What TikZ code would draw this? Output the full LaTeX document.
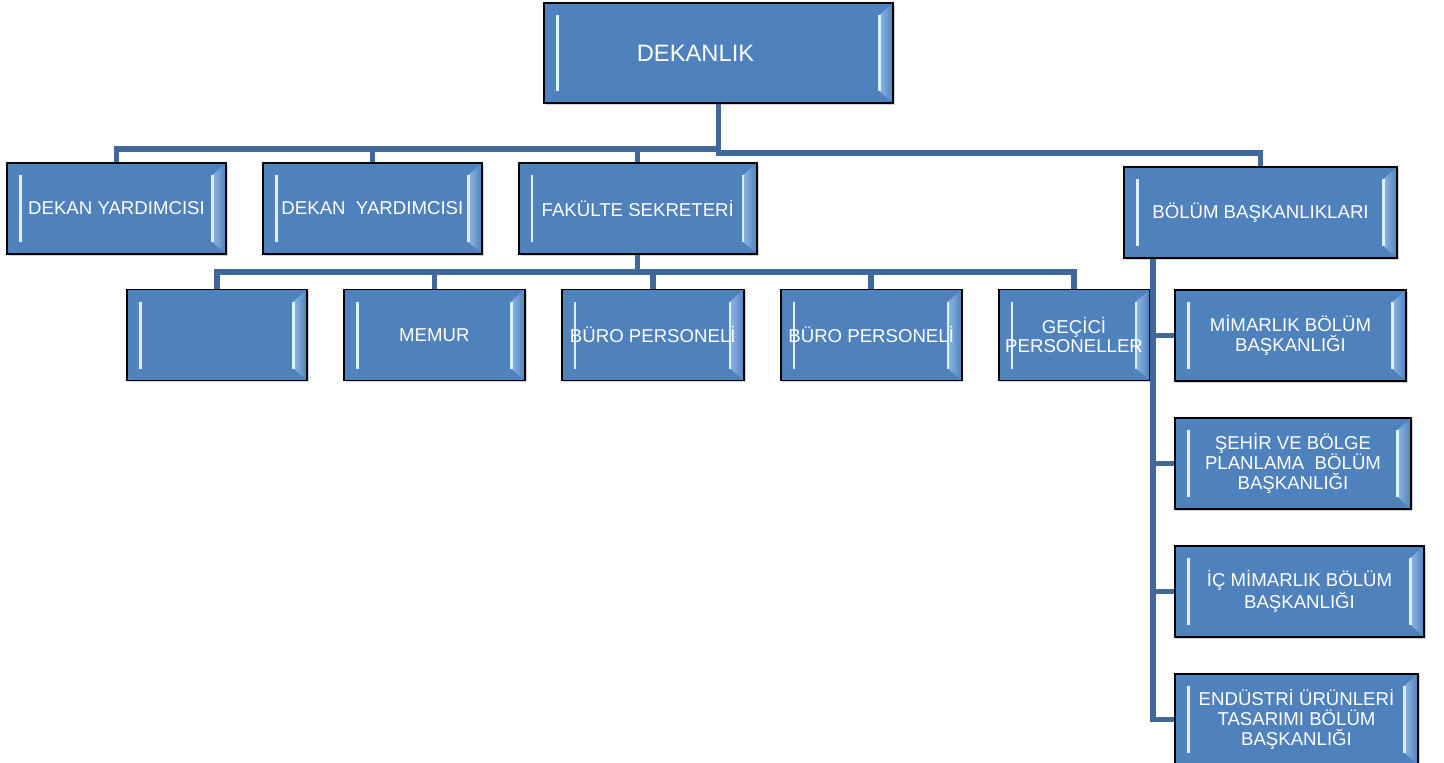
\documentclass[tikz,border=0pt]{standalone}
\usepackage{fontspec}
\newfontfamily\chartfont{Liberation Sans}
\usetikzlibrary{
		calc,
		positioning,
		shadows
	}
\definecolor{boxblue}{HTML}{4F81BD}
\definecolor{boxedge}{HTML}{8DB5E3}
\definecolor{boxshine}{HTML}{DCF1FF}
\definecolor{linkblue}{HTML}{41689B}
\tikzset{
		orgbox/.style={draw=black, line width=1.1pt, fill=boxblue, text=white, align=center,
			minimum height=1.82cm, inner sep=2pt,
			font=\chartfont\fontsize{10.6}{11.2}\selectfont,
			drop shadow={opacity=0.35, shadow xshift=1pt, shadow yshift=-1pt},
			path picture={
				% bevel on the left and right sides
				\shade[left color=boxblue, right color=boxedge]
					(path picture bounding box.north west) -- ([shift={(0.27cm,-0.24cm)}]path picture bounding box.north west)
					-- ([shift={(0.27cm,0.24cm)}]path picture bounding box.south west) -- (path picture bounding box.south west) -- cycle;
				\shade[left color=boxedge, right color=boxblue]
					(path picture bounding box.north east) -- ([shift={(-0.27cm,-0.24cm)}]path picture bounding box.north east)
					-- ([shift={(-0.27cm,0.24cm)}]path picture bounding box.south east) -- (path picture bounding box.south east) -- cycle;
				\draw[boxshine, line width=1.3pt]
					([shift={(0.27cm,-0.24cm)}]path picture bounding box.north west) -- ([shift={(0.27cm,0.24cm)}]path picture bounding box.south west)
					([shift={(-0.27cm,-0.24cm)}]path picture bounding box.north east) -- ([shift={(-0.27cm,0.24cm)}]path picture bounding box.south east);
			}},
		link/.style={draw=linkblue, line width=3.1pt}
	}

\begin{document}
\begin{tikzpicture}[x=0.02cm, y=-0.02cm]
	\useasboundingbox (0,0) rectangle (1444,762);
	\node[orgbox, minimum width=6.98cm, minimum height=2cm,
		label={[text=white, font=\chartfont\fontsize{13.5}{16}\selectfont, xshift=-0.46cm]center:DEKANLIK}] (dek) at (718.5,53) {};
	\node[orgbox, minimum width=4.38cm] (dy1) at (116.5,208.5) {DEKAN YARDIMCISI};
	\node[orgbox, minimum width=4.38cm, right=0.7cm of dy1] (dy2) {DEKAN~~YARDIMCISI};
	\node[orgbox, minimum width=4.76cm, right=0.7cm of dy2] (fs) {FAKÜLTE SEKRETERİ};
	\node[orgbox, minimum width=5.46cm] (bb) at (1260.5,212.5) {BÖLÜM BAŞKANLIKLARI};
	\node[orgbox, minimum width=3.6cm] (b1) at (217,335) {};
	\node[orgbox, minimum width=3.62cm, right=0.7cm of b1] (memur) {MEMUR};
	\node[orgbox, minimum width=3.64cm, right=0.7cm of memur] (bp1) {BÜRO PERSONELİ};
	\node[orgbox, minimum width=3.62cm, right=0.7cm of bp1] (bp2) {BÜRO PERSONELİ};
	\node[orgbox, minimum width=3.02cm, right=0.7cm of bp2] (gp) {GEÇİCİ\\PERSONELLER};
	\node[orgbox, minimum width=4.62cm] (mbb) at (1290.5,335.5) {MİMARLIK BÖLÜM\\BAŞKANLIĞI};
	\node[orgbox, minimum width=4.72cm, below right=0.7cm and 0cm of mbb.south west] (sbp) {ŞEHİR VE BÖLGE\\PLANLAMA~~BÖLÜM\\BAŞKANLIĞI};
	\node[orgbox, minimum width=4.98cm, below right=0.7cm and 0cm of sbp.south west] (imb) {İÇ MİMARLIK BÖLÜM\\BAŞKANLIĞI};
	\node[orgbox, minimum width=4.86cm, below right=0.7cm and 0cm of imb.south west] (eut) {ENDÜSTRİ ÜRÜNLERİ\\TASARIMI BÖLÜM\\BAŞKANLIĞI};
	% dekanlik to first row
	\draw[link] (dek.south) -- ++(0,45) -| (dy1.north);
	\draw[link] (dek.south) -- ++(0,45) -| (dy2.north);
	\draw[link] (dek.south) -- ++(0,45) -| (fs.north);
	\draw[link] (dek.south) -- ++(0,49) -| (bb.north);
	% fakulte sekreteri to staff
	\draw[link] (fs.south) -- ++(0,17) -| (b1.north);
	\draw[link] (fs.south) -- ++(0,17) -| (memur.north);
	\draw[link] (fs.south) -- ++(0,17) -| (bp1.north);
	\draw[link] (fs.south) -- ++(0,17) -| (bp2.north);
	\draw[link] (fs.south) -- ++(0,17) -| (gp.north);
	% bolum baskanliklari to departments
	\coordinate (bbstem) at ([xshift=0.6cm]bb.south west);
	\draw[link] (bbstem) |- (mbb.west);
	\draw[link] (bbstem) |- (sbp.west);
	\draw[link] (bbstem) |- (imb.west);
	\draw[link] (bbstem) |- (eut.west);
\end{tikzpicture}
\end{document}
